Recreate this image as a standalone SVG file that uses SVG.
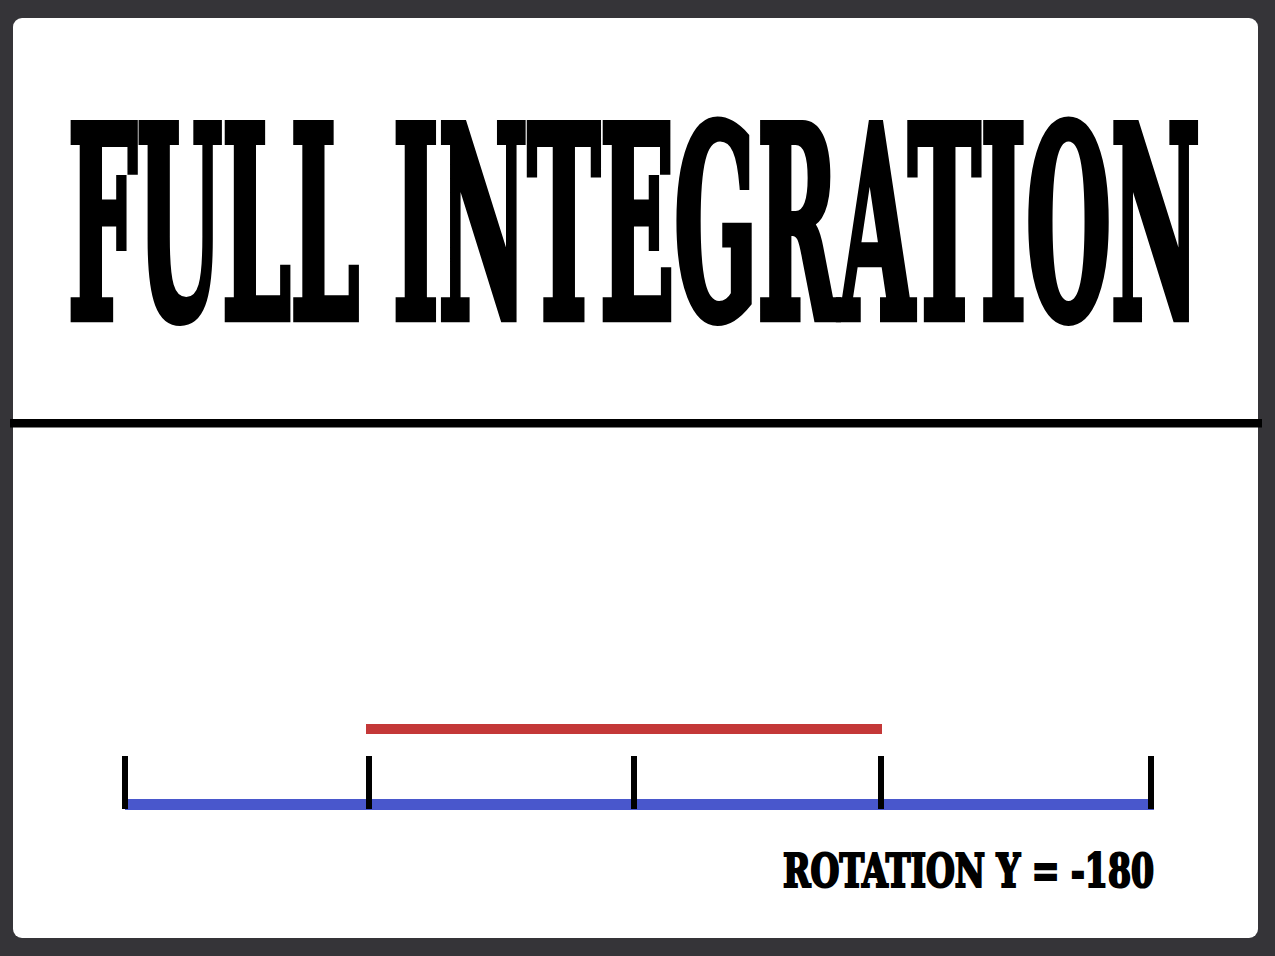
<svg xmlns="http://www.w3.org/2000/svg" width="1275" height="956" viewBox="0 0 1275 956">
<style>
.stencil{font-family:"DejaVu Serif Condensed","DejaVu Serif","Liberation Serif",serif;font-weight:bold;fill:#000;stroke:#000;stroke-linejoin:miter}
.tick{stroke:#000;stroke-width:6}
</style>
<rect x="0" y="0" width="1275" height="956" fill="#353438"/>
<rect x="13" y="18" width="1245" height="920" rx="9" fill="#fff"/>
<g id="title">
<g transform="translate(68,317.5) scale(1,2.34)">
<text class="stencil" x="0" y="0" font-size="113" textLength="1132" lengthAdjust="spacingAndGlyphs" stroke-width="4">FULL INTEGRATION</text>
</g>
</g>
<g id="divider"><rect x="10" y="419" width="1252" height="8.5" fill="#000"/></g>
<g id="connectors">
<rect x="366" y="724" width="516" height="10" fill="#c43838"/>
<rect x="125" y="799" width="1029" height="11" fill="#4957cc"/>
<line class="tick" x1="125" y1="756" x2="125" y2="809"/>
<line class="tick" x1="369" y1="756" x2="369" y2="809"/>
<line class="tick" x1="634" y1="756" x2="634" y2="809"/>
<line class="tick" x1="881" y1="756" x2="881" y2="809"/>
<line class="tick" x1="1151" y1="756" x2="1151" y2="809"/>
</g>
<g id="label">
<g transform="translate(783,887) scale(1,1.49)">
<text class="stencil" x="0" y="0" font-size="31" textLength="371" lengthAdjust="spacingAndGlyphs" stroke-width="1.5">ROTATION Y = -180</text>
</g>
</g>
</svg>
